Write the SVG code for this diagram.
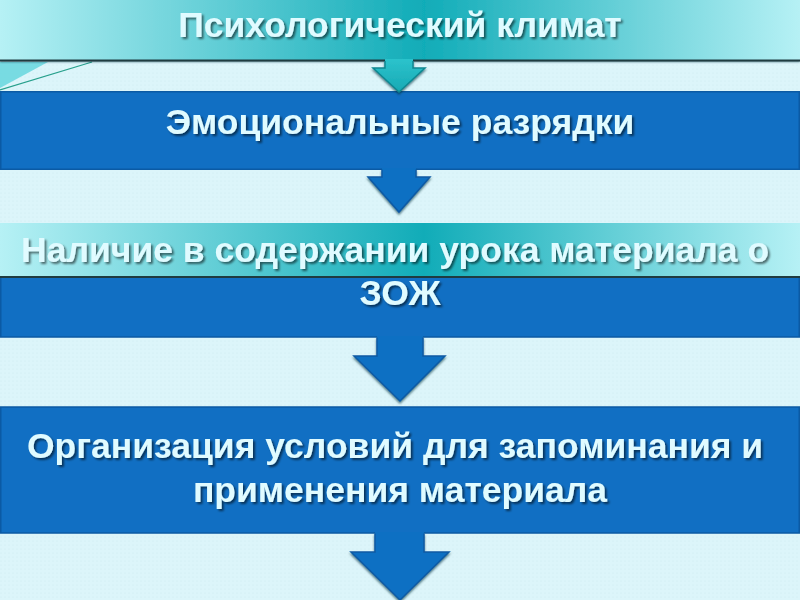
<svg xmlns="http://www.w3.org/2000/svg" width="800" height="600" viewBox="0 0 800 600">
<defs>
  <linearGradient id="teal" x1="0" y1="0" x2="1" y2="0">
    <stop offset="0" stop-color="#b6f1f5"/>
    <stop offset="0.53" stop-color="#11acb8"/>
    <stop offset="1" stop-color="#b6f1f5"/>
  </linearGradient>
  <linearGradient id="tealArrow" x1="0" y1="0" x2="0" y2="1">
    <stop offset="0" stop-color="#2cc3cc"/>
    <stop offset="1" stop-color="#17a9b4"/>
  </linearGradient>
  <pattern id="dots" width="4" height="4" patternUnits="userSpaceOnUse">
    <rect width="4" height="4" fill="#dcf5fa"/>
    <circle cx="1" cy="1" r="0.6" fill="#cdebf1"/>
  </pattern>
  <filter id="ts" x="-5%" y="-30%" width="110%" height="160%">
    <feDropShadow dx="2" dy="2" stdDeviation="1.2" flood-color="#000" flood-opacity="0.55"/>
  </filter>
  <filter id="bs" x="-5%" y="-10%" width="110%" height="130%">
    <feDropShadow dx="0" dy="2" stdDeviation="1.2" flood-color="#003040" flood-opacity="0.6"/>
  </filter>
  <style>
    .lbl { font-family: "Liberation Sans", Arial, sans-serif; font-weight: bold; font-size: 35.5px; fill: #e0fbff; text-anchor: middle; }
    .blue { fill: #116fc3; stroke: #0b5aa4; stroke-width: 1.5; }
    .tealbox { fill: url(#teal); }
    .arrowB { fill: #116fc3; }
    .arrowBo { fill: none; stroke: #0b5aa4; stroke-width: 1.5; stroke-linejoin: miter; }
    .arrowT { fill: url(#tealArrow); }
    .arrowTo { fill: none; stroke: #0c8791; stroke-width: 1.5; }
  </style>
</defs>

<rect width="800" height="600" fill="url(#dots)"/>
<polygon points="0,62 48,62 0,88" fill="#5fd5dc" opacity="0.8"/>
<line x1="0" y1="90" x2="92" y2="62" stroke="#27a08c" stroke-width="1.2"/>

<g id="node1">
  <rect x="0" y="0" width="800" height="60" class="tealbox" filter="url(#bs)"/>
  <line x1="0" y1="60.5" x2="800" y2="60.5" stroke="#1f3b40" stroke-width="2"/>
  <text x="400" y="37" class="lbl" filter="url(#ts)">Психологический климат</text>
</g>

<g id="node2">
  <rect x="0.75" y="91.75" width="798.5" height="77.5" class="blue"/>
  <text x="400" y="134" class="lbl" filter="url(#ts)">Эмоциональные разрядки</text>
</g>

<g id="node3">
  <rect x="0.75" y="277" width="798.5" height="60" class="blue"/>
  <rect x="0" y="223" width="800" height="53" class="tealbox"/>
  <line x1="0" y1="277" x2="800" y2="277" stroke="#1f3b40" stroke-width="2"/>
  <text class="lbl" filter="url(#ts)">
    <tspan x="400" y="262">Наличие в содержании урока материала о</tspan>
    <tspan x="400" y="305">ЗОЖ</tspan>
  </text>
</g>

<g id="node4">
  <rect x="0.75" y="407" width="798.5" height="126" class="blue"/>
  <text class="lbl" filter="url(#ts)">
    <tspan x="400" y="458">Организация условий для запоминания и</tspan>
    <tspan x="400" y="502">применения материала</tspan>
  </text>
</g>

<g id="connectors">
  <g filter="url(#bs)">
    <polygon class="arrowT" points="385,59 413,59 413,68 425,68 399,92 373,68 385,68"/>
    <polyline class="arrowTo" points="385,61 385,68 373,68 399,92 425,68 413,68 413,61"/>
  </g>
  <g filter="url(#bs)">
    <polygon class="arrowB" points="382,168 416,168 416,177 430,177 399,212 368,177 382,177"/>
    <polyline class="arrowBo" points="382,169.5 382,177 368,177 399,212 430,177 416,177 416,169.5"/>
  </g>
  <g filter="url(#bs)">
    <polygon class="arrowB" points="377,336 423,336 423,356 445,356 400,401 354,356 377,356"/>
    <polyline class="arrowBo" points="377,337.5 377,356 354,356 400,401 445,356 423,356 423,337.5"/>
  </g>
  <g filter="url(#bs)">
    <polygon class="arrowB" points="375,532 424,532 424,552 449,552 400,600 351,552 375,552"/>
    <polyline class="arrowBo" points="375,533.5 375,552 351,552 400,600 449,552 424,552 424,533.5"/>
  </g>
</g>
</svg>
